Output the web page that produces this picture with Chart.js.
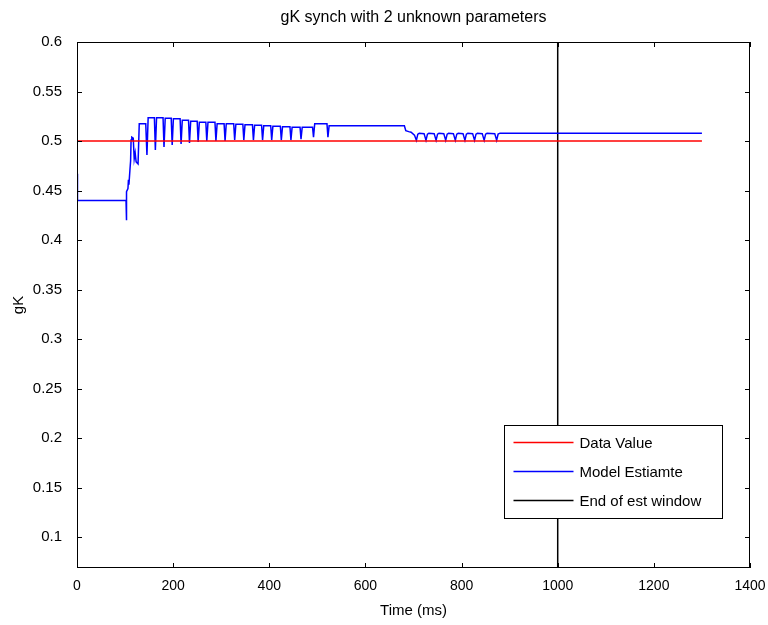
<!DOCTYPE html>
<html>
<head>
<meta charset="utf-8">
<script src="https://cdn.jsdelivr.net/npm/chart.js@4.4.0/dist/chart.umd.min.js"></script>
<style>
  body { margin: 0; background: #fff; }
  canvas { display: block; }
</style>
</head>
<body>
<canvas id="grafico" width="768" height="625"></canvas>
<script>
// Datos

const titulo = 'gK synch with 2 unknown parameters'
const etiquetas = ['Data Value', 'Model Estiamte', 'End of est window']

// Valor real del parametro (linea roja)
const tiempoDato = [0, 1300]
const gkDato = [0.5, 0.5]

// Estimacion del modelo (linea azul)
const tiempoModelo = [
  0, 1, 102, 102.5, 103.5, 106, 107, 108, 110, 111.5, 112.5, 114, 117, 119, 121, 123,
  127, 129.5, 143, 145.5, 148, 161, 163, 165.5, 179, 181, 183.5, 196,
  198, 200.5, 214.5, 216.5, 219, 232, 234, 236.5, 250, 252, 254.5, 268,
  270, 272.5, 287, 289, 291.5, 306, 308, 310.5, 326, 328, 330.5, 345,
  347, 349.5, 365, 367, 369.5, 384, 386, 388.5, 403, 405, 407.5, 423,
  425, 427.5, 443, 445, 447.5, 464, 466, 468.5, 490, 492, 494.5, 520,
  522, 524.5, 681,
  684, 690, 695, 702, 706, 709, 712, 722,
  726, 729, 732, 743, 747, 750, 753, 763,
  767, 770, 773, 783, 787, 790, 793, 803,
  807, 810, 813, 823, 827, 830, 833, 843,
  847, 850, 853, 869, 873, 876, 880, 1300
]
const gkModelo = [
  0.467, 0.44, 0.44, 0.42, 0.449, 0.452, 0.461, 0.456, 0.47, 0.48, 0.501, 0.504, 0.503, 0.482, 0.488, 0.479,
  0.477, 0.5175, 0.5175, 0.486, 0.5235, 0.5235, 0.491, 0.5235, 0.5235, 0.494, 0.523, 0.523,
  0.496, 0.5225, 0.5225, 0.497, 0.521, 0.521, 0.498, 0.52, 0.52, 0.499, 0.519, 0.519,
  0.5, 0.519, 0.519, 0.5, 0.5175, 0.5175, 0.5, 0.5175, 0.5175, 0.501, 0.517, 0.517,
  0.501, 0.5165, 0.5165, 0.501, 0.516, 0.516, 0.501, 0.5155, 0.5155, 0.501, 0.515, 0.515,
  0.501, 0.5145, 0.5145, 0.501, 0.514, 0.514, 0.502, 0.514, 0.514, 0.504, 0.5175, 0.5175,
  0.504, 0.5155, 0.5155,
  0.5105, 0.5095, 0.509, 0.506, 0.5007, 0.507, 0.5078, 0.5075,
  0.5007, 0.507, 0.5078, 0.5075, 0.5007, 0.507, 0.5078, 0.5075,
  0.5007, 0.507, 0.5078, 0.5075, 0.5007, 0.507, 0.5078, 0.5075,
  0.5007, 0.507, 0.5078, 0.5075, 0.5007, 0.507, 0.5078, 0.5075,
  0.5007, 0.507, 0.5078, 0.5075, 0.5007, 0.507, 0.508, 0.508
]

// Fin de la ventana de estimacion (linea negra vertical)
const tiempoVentana = [1000, 1000]
const gkVentana = [0.069, 0.6]

// Marcas de los ejes
const ticksX = [0, 200, 400, 600, 800, 1000, 1200, 1400]
const ticksY = [0.1, 0.15, 0.2, 0.25, 0.3, 0.35, 0.4, 0.45, 0.5, 0.55, 0.6]

const fuente = '"Liberation Sans", Arial, Helvetica, sans-serif'

const aPuntos = (xs, ys) => xs.map((x, i) => ({ x: x, y: ys[i] }))

// Caja estilo MATLAB con marcas hacia dentro, titulo y leyenda dentro del area
const marcoMatlab = {
  id: 'marcoMatlab',
  afterDraw(chart) {
    const ctx = chart.ctx
    const { left, right, top, bottom } = chart.chartArea
    const escalaX = chart.scales.x
    const escalaY = chart.scales.y
    const largo = 5 // largo de las marcas

    ctx.save()
    ctx.strokeStyle = '#000'
    ctx.lineWidth = 1
    ctx.strokeRect(Math.round(left) + 0.5, Math.round(top) + 0.5, Math.round(right - left) - 1, Math.round(bottom - top) - 1)

    ctx.beginPath()
    escalaX.ticks.forEach(t => {
      const px = Math.round(escalaX.getPixelForValue(t.value)) + 0.5
      ctx.moveTo(px, bottom); ctx.lineTo(px, bottom - largo)
      ctx.moveTo(px, top); ctx.lineTo(px, top + largo)
    })
    escalaY.ticks.forEach(t => {
      const py = Math.round(escalaY.getPixelForValue(t.value)) + 0.5
      ctx.moveTo(left, py); ctx.lineTo(left + largo, py)
      ctx.moveTo(right, py); ctx.lineTo(right - largo, py)
    })
    ctx.stroke()

    // Titulo centrado sobre el area del grafico
    ctx.fillStyle = '#000'
    ctx.font = '16px ' + fuente
    ctx.textAlign = 'center'
    ctx.textBaseline = 'middle'
    ctx.fillText(titulo, (left + right) / 2, 18)

    // Leyenda
    const ancho = 218
    const alto = 93
    const lx = Math.round(right - 28 - ancho) + 0.5
    const ly = Math.round(bottom - 50 - alto) + 0.5
    ctx.fillStyle = '#fff'
    ctx.fillRect(lx, ly, ancho, alto)
    ctx.strokeStyle = '#000'
    ctx.strokeRect(lx, ly, ancho, alto)
    ctx.font = '15px ' + fuente
    ctx.textAlign = 'left'
    chart.data.datasets.forEach((ds, i) => {
      const fy = ly + 17 + i * 29
      ctx.strokeStyle = ds.borderColor
      ctx.lineWidth = 1.5
      ctx.beginPath()
      ctx.moveTo(lx + 9, fy)
      ctx.lineTo(lx + 69, fy)
      ctx.stroke()
      ctx.fillStyle = '#000'
      ctx.fillText(ds.label, lx + 75, fy + 1)
    })
    ctx.restore()
  }
}

const ctx = document.getElementById('grafico').getContext('2d')
const grafico = new Chart(ctx, {
  type: 'scatter',
  data: {
    datasets: [
      { label: etiquetas[0], data: aPuntos(tiempoDato, gkDato), borderColor: '#ff0000' },
      { label: etiquetas[1], data: aPuntos(tiempoModelo, gkModelo), borderColor: '#0000ff' },
      { label: etiquetas[2], data: aPuntos(tiempoVentana, gkVentana), borderColor: '#000000' }
    ].map(d => Object.assign(d, { showLine: true, pointRadius: 0, borderWidth: 1.5, fill: false, tension: 0 }))
  },
  options: {
    responsive: false,
    animation: false,
    layout: { padding: { top: 42, right: 18, left: 0, bottom: 0 } },
    plugins: {
      legend: { display: false },
      tooltip: { enabled: false }
    },
    scales: {
      x: {
        type: 'linear',
        min: 0,
        max: 1400,
        grid: { display: false, drawTicks: false },
        border: { display: false },
        afterBuildTicks: s => { s.ticks = ticksX.map(v => ({ value: v })) },
        afterFit: s => { s.height = 57; s.paddingLeft = 0; s.paddingRight = 0 },
        ticks: { color: '#000', padding: 10, font: { family: fuente, size: 14 }, maxRotation: 0, callback: v => String(v) },
        title: { display: true, text: 'Time (ms)', color: '#000', font: { family: fuente, size: 15 }, padding: { top: 0, bottom: 5 } }
      },
      y: {
        type: 'linear',
        min: 0.069,
        max: 0.6,
        grid: { display: false, drawTicks: false },
        border: { display: false },
        afterBuildTicks: s => { s.ticks = ticksY.map(v => ({ value: v })) },
        afterFit: s => { s.width = 77; s.paddingTop = 0; s.paddingBottom = 0 },
        ticks: { color: '#000', padding: 15, font: { family: fuente, size: 15 }, callback: v => String(+v.toFixed(2)) },
        title: { display: true, text: 'gK', color: '#000', font: { family: fuente, size: 15 }, padding: { top: 10, bottom: 0 } }
      }
    }
  },
  plugins: [marcoMatlab]
})
</script>
</body>
</html>
